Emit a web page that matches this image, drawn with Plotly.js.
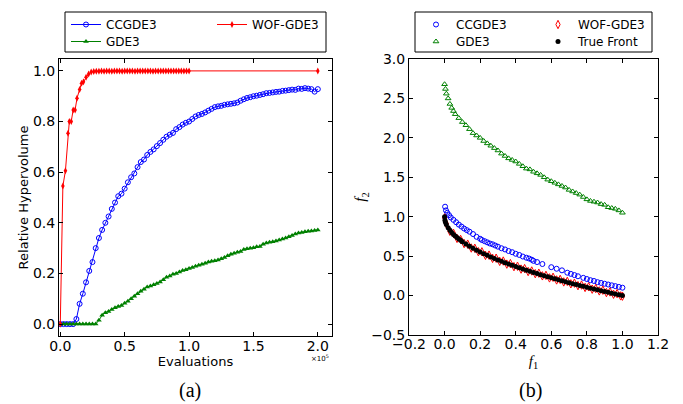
<!DOCTYPE html>
<html>
<head>
<meta charset="utf-8">
<script src="https://cdn.plot.ly/plotly-3.0.1.min.js"></script>
<style>html,body{margin:0;padding:0;background:#fff;}#chart{width:683px;height:404px;}</style>
</head>
<body>
<div id="chart"></div>
<script>
// ---------- Panel (a): relative hypervolume vs evaluations (x in units of 1e5) ----------
const evals = [0,0.025,0.05,0.075,0.1,0.125,0.15,0.175,0.2,0.225,0.25,0.275,0.3,0.325,0.35,0.375,0.4,0.425,0.45,0.475,0.5,0.525,0.55,0.575,0.6,0.625,0.65,0.675,0.7,0.725,0.75,0.775,0.8,0.825,0.85,0.875,0.9,0.925,0.95,0.975,1.0,1.025,1.05,1.075,1.1,1.125,1.15,1.175,1.2,1.225,1.25,1.275,1.3,1.325,1.35,1.375,1.4,1.425,1.45,1.475,1.5,1.525,1.55,1.575,1.6,1.625,1.65,1.675,1.7,1.725,1.75,1.775,1.8,1.825,1.85,1.875,1.9,1.925,1.95,1.975,2.0];
const hvCCGDE3 = [0,0,0,0,0,0.02,0.08,0.12,0.165,0.21,0.245,0.30,0.34,0.372,0.40,0.425,0.455,0.48,0.505,0.515,0.535,0.56,0.58,0.595,0.62,0.64,0.65,0.668,0.68,0.69,0.703,0.715,0.728,0.74,0.748,0.755,0.77,0.778,0.788,0.795,0.80,0.81,0.82,0.826,0.83,0.836,0.843,0.85,0.857,0.86,0.862,0.866,0.868,0.87,0.872,0.875,0.882,0.888,0.893,0.896,0.90,0.902,0.905,0.908,0.912,0.913,0.915,0.917,0.918,0.921,0.922,0.924,0.926,0.925,0.93,0.929,0.932,0.93,0.928,0.918,0.928];
const hvGDE3 = [0,0,0,0,0,0,0,0,0,0,0,0,0.015,0.035,0.045,0.05,0.058,0.065,0.07,0.073,0.082,0.09,0.10,0.11,0.12,0.13,0.138,0.147,0.15,0.155,0.16,0.166,0.175,0.185,0.19,0.197,0.20,0.206,0.212,0.215,0.22,0.224,0.228,0.232,0.236,0.24,0.245,0.248,0.25,0.253,0.258,0.263,0.27,0.276,0.28,0.284,0.287,0.295,0.298,0.30,0.302,0.305,0.306,0.315,0.32,0.323,0.325,0.328,0.332,0.336,0.34,0.345,0.35,0.356,0.36,0.362,0.365,0.367,0.368,0.37,0.372];
const evalsWOF = [0,0.02,0.04,0.06,0.07,0.085,0.1,0.115,0.13,0.15,0.165,0.18,0.2,0.22,0.24,0.26,0.28,0.3,0.32,0.34,0.36,0.38,0.4,0.42,0.44,0.46,0.48,0.5,0.52,0.54,0.56,0.58,0.6,0.62,0.64,0.66,0.68,0.7,0.72,0.74,0.76,0.78,0.8,0.82,0.84,0.86,0.88,0.9,0.92,0.94,0.96,0.98,1.0,2.0];
const hvWOF = [0,0.545,0.606,0.754,0.80,0.80,0.846,0.846,0.892,0.927,0.951,0.957,0.975,0.988,0.996,0.998,0.999,0.999,1.0,0.999,1.0,1.0,0.999,1.0,1.0,1.0,0.999,1.0,1.0,1.0,1.0,0.999,1.0,1.0,1.0,1.0,1.0,1.0,0.999,1.0,1.0,1.0,1.0,1.0,1.0,1.0,1.0,1.0,1.0,1.0,1.0,1.0,1.0,1.0];

// ---------- Panel (b): final fronts ----------
const f1CCGDE3 = [0.003,0.008,0.015,0.025,0.035,0.05,0.065,0.08,0.095,0.11,0.125,0.14,0.16,0.18,0.2,0.21,0.225,0.24,0.255,0.27,0.285,0.3,0.32,0.34,0.36,0.38,0.4,0.42,0.44,0.46,0.475,0.49,0.5,0.52,0.55,0.6,0.63,0.66,0.69,0.71,0.73,0.75,0.78,0.8,0.82,0.84,0.86,0.88,0.9,0.92,0.94,0.96,0.98,1.0];
const f2CCGDE3 = [1.127,1.08,1.05,1.02,0.99,0.96,0.93,0.90,0.875,0.85,0.83,0.81,0.78,0.745,0.72,0.705,0.69,0.675,0.66,0.65,0.635,0.62,0.60,0.585,0.565,0.55,0.53,0.515,0.495,0.48,0.47,0.455,0.44,0.425,0.40,0.36,0.34,0.32,0.29,0.275,0.26,0.245,0.225,0.21,0.195,0.185,0.17,0.16,0.15,0.14,0.13,0.12,0.11,0.10];
const f1GDE3 = [0,0.005,0.01,0.02,0.03,0.04,0.05,0.06,0.08,0.1,0.12,0.14,0.16,0.18,0.2,0.22,0.24,0.26,0.28,0.3,0.32,0.34,0.36,0.38,0.4,0.42,0.44,0.46,0.48,0.5,0.52,0.54,0.56,0.58,0.6,0.62,0.64,0.66,0.68,0.7,0.72,0.74,0.76,0.78,0.8,0.82,0.84,0.86,0.88,0.9,0.92,0.94,0.96,0.98,1.0];
const f2GDE3 = [2.68,2.62,2.56,2.5,2.43,2.38,2.34,2.30,2.25,2.2,2.16,2.11,2.06,2.03,2.0,1.96,1.93,1.90,1.87,1.84,1.80,1.77,1.74,1.72,1.70,1.67,1.64,1.61,1.60,1.57,1.55,1.53,1.50,1.47,1.45,1.43,1.41,1.39,1.37,1.34,1.32,1.30,1.28,1.25,1.22,1.20,1.19,1.18,1.16,1.15,1.12,1.11,1.10,1.08,1.05];
const f1WOF = [0.001,0.01,0.03,0.05,0.07,0.09,0.11,0.13,0.15,0.17,0.19,0.21,0.23,0.25,0.27,0.29,0.31,0.33,0.35,0.37,0.39,0.41,0.43,0.45,0.47,0.49,0.51,0.53,0.55,0.57,0.59,0.61,0.63,0.65,0.67,0.69,0.71,0.73,0.75,0.77,0.79,0.81,0.83,0.85,0.87,0.89,0.91,0.93,0.95,0.97,0.99,1.0];
const f2WOF = [0.985,0.91,0.815,0.79,0.725,0.712,0.66,0.652,0.603,0.6,0.556,0.555,0.51,0.513,0.472,0.474,0.434,0.438,0.399,0.405,0.367,0.372,0.336,0.342,0.305,0.312,0.278,0.284,0.25,0.256,0.224,0.232,0.198,0.205,0.173,0.18,0.149,0.157,0.126,0.133,0.103,0.111,0.081,0.089,0.059,0.068,0.038,0.046,0.017,0.025,-0.004,-0.008];
const f1True = [0,0.002,0.005,0.01,0.02,0.03,0.04,0.05,0.06,0.07,0.08,0.09,0.10,0.12,0.14,0.16,0.18,0.20,0.22,0.24,0.26,0.28,0.30,0.32,0.34,0.36,0.38,0.40,0.42,0.44,0.46,0.48,0.50,0.52,0.54,0.56,0.58,0.60,0.62,0.64,0.66,0.68,0.70,0.72,0.74,0.76,0.78,0.80,0.82,0.84,0.86,0.88,0.90,0.92,0.94,0.96,0.98,1.00];
const f2True = [1,0.955,0.929,0.9,0.859,0.827,0.8,0.776,0.755,0.735,0.717,0.7,0.684,0.654,0.626,0.6,0.576,0.553,0.531,0.510,0.490,0.471,0.452,0.434,0.417,0.4,0.384,0.368,0.352,0.337,0.322,0.307,0.293,0.279,0.265,0.252,0.238,0.225,0.213,0.2,0.188,0.175,0.163,0.151,0.140,0.128,0.117,0.106,0.094,0.083,0.073,0.062,0.051,0.041,0.030,0.020,0.010,0];

const xTicksA = [0,0.5,1.0,1.5,2.0];
const yTicksA = [0,0.2,0.4,0.6,0.8,1.0];
const xTicksB = [-0.2,0,0.2,0.4,0.6,0.8,1.0,1.2];
const yTicksB = [-0.5,0,0.5,1.0,1.5,2.0,2.5,3.0];

const BLUE = '#0000ff', GREEN = '#008000', RED = '#ff0000';
const TICKF = {family: 'DejaVu Sans', size: 14, color: '#000'};
const TITF = {family: 'DejaVu Sans', size: 13, color: '#000'};
const LEGF = {family: 'DejaVu Sans', size: 12, color: '#000'};

const traces = [
  {x: evals, y: hvCCGDE3, name: 'CCGDE3', mode: 'lines+markers', xaxis: 'x', yaxis: 'y', legend: 'legend',
   line: {color: BLUE, width: 1}, marker: {symbol: 'circle-open', size: 5, color: BLUE, line: {width: 1}}},
  {x: evals, y: hvGDE3, name: 'GDE3', mode: 'lines+markers', xaxis: 'x', yaxis: 'y', legend: 'legend2',
   line: {color: GREEN, width: 1}, marker: {symbol: 'triangle-up', size: 5, color: GREEN}},
  {x: evalsWOF, y: hvWOF, name: 'WOF-GDE3', mode: 'lines+markers', xaxis: 'x', yaxis: 'y', legend: 'legend3',
   line: {color: RED, width: 1}, marker: {symbol: 'diamond-tall', size: 5, color: RED}},

  {x: f1CCGDE3, y: f2CCGDE3, name: 'CCGDE3', mode: 'markers', xaxis: 'x2', yaxis: 'y2', legend: 'legend4',
   marker: {symbol: 'circle-open', size: 5, color: BLUE, line: {width: 1}}},
  {x: f1GDE3, y: f2GDE3, name: 'GDE3', mode: 'markers', xaxis: 'x2', yaxis: 'y2', legend: 'legend5',
   marker: {symbol: 'triangle-up-open', size: 5, color: GREEN, line: {width: 1}}},
  {x: f1WOF, y: f2WOF, name: 'WOF-GDE3', mode: 'markers', xaxis: 'x2', yaxis: 'y2', legend: 'legend6',
   marker: {symbol: 'diamond-tall-open', size: 6, color: RED, line: {width: 1}}},
  {x: f1True, y: f2True, name: 'True Front', mode: 'markers', xaxis: 'x2', yaxis: 'y2', legend: 'legend7',
   marker: {symbol: 'circle', size: 5, color: '#000'}}
];

const axBase = {showline: true, linecolor: '#000', linewidth: 1, mirror: 'ticks', ticks: 'inside', ticklen: 4,
  tickcolor: '#000', showgrid: false, zeroline: false, tickfont: TICKF, tickformat: '.1f', tickmode: 'array'};

const legBase = {bgcolor: 'rgba(0,0,0,0)', borderwidth: 0, font: LEGF, yanchor: 'top', xanchor: 'left',
  orientation: 'v', tracegroupgap: 0, itemwidth: 30};
const ROW1 = 1 - 10/404, ROW2 = 1 - 27/404;

const layout = {
  width: 683, height: 404, margin: {l: 0, r: 0, t: 0, b: 0},
  paper_bgcolor: '#fff', plot_bgcolor: '#fff', font: TITF, showlegend: true,
  xaxis: Object.assign({}, axBase, {domain: [59/683, 332/683], range: [-0.01, 2.11], tickvals: xTicksA, anchor: 'y',
    ticklabelstandoff: -3, title: {text: 'Evaluations', font: TITF, standoff: 2}}),
  yaxis: Object.assign({}, axBase, {domain: [68/404, 345/404], range: [-0.047, 1.047], tickvals: yTicksA, anchor: 'x',
    title: {text: 'Relative Hypervolume', font: TITF, standoff: 1}}),
  xaxis2: Object.assign({}, axBase, {domain: [409/683, 658/683], range: [-0.2, 1.2], tickvals: xTicksB, anchor: 'y2',
    ticklabelstandoff: -4, title: {text: '<i>f</i><sub>1</sub>', font: {family: 'Liberation Serif', size: 15, color: '#000'}, standoff: 4}}),
  yaxis2: Object.assign({}, axBase, {domain: [69/404, 345/404], range: [-0.5, 3.0], tickvals: yTicksB, anchor: 'x2',
    title: {text: '<i>f</i><sub>2</sub>', font: {family: 'Liberation Serif', size: 15, color: '#000'}, standoff: 1}}),
  legend: Object.assign({}, legBase, {x: 66/683, y: ROW1}),
  legend2: Object.assign({}, legBase, {x: 66/683, y: ROW2}),
  legend3: Object.assign({}, legBase, {x: 212/683, y: ROW1}),
  legend4: Object.assign({}, legBase, {x: 416/683, y: ROW1}),
  legend5: Object.assign({}, legBase, {x: 416/683, y: ROW2}),
  legend6: Object.assign({}, legBase, {x: 538/683, y: ROW1}),
  legend7: Object.assign({}, legBase, {x: 538/683, y: ROW2}),
  shapes: [
    {type: 'rect', xref: 'paper', yref: 'paper', x0: 65/683, x1: 326/683, y0: 1 - 52/404, y1: 1 - 12/404,
     line: {color: '#000', width: 1}},
    {type: 'rect', xref: 'paper', yref: 'paper', x0: 415/683, x1: 652/683, y0: 1 - 52/404, y1: 1 - 12/404,
     line: {color: '#000', width: 1}}
  ],
  annotations: [
    {text: '×10<sup>5</sup>', xref: 'paper', yref: 'paper', x: 331/683, y: 1 - 358/404, showarrow: false,
     xanchor: 'right', yanchor: 'middle', font: {family: 'DejaVu Sans', size: 7, color: '#000'}},
    {text: '(a)', xref: 'paper', yref: 'paper', x: 190/683, y: 1 - 390/404, showarrow: false,
     xanchor: 'center', yanchor: 'middle', font: {family: 'Liberation Serif', size: 20, color: '#000'}},
    {text: '(b)', xref: 'paper', yref: 'paper', x: 530/683, y: 1 - 390/404, showarrow: false,
     xanchor: 'center', yanchor: 'middle', font: {family: 'Liberation Serif', size: 20, color: '#000'}}
  ]
};

Plotly.newPlot('chart', traces, layout, {staticPlot: true, displayModeBar: false});
</script>
</body>
</html>
